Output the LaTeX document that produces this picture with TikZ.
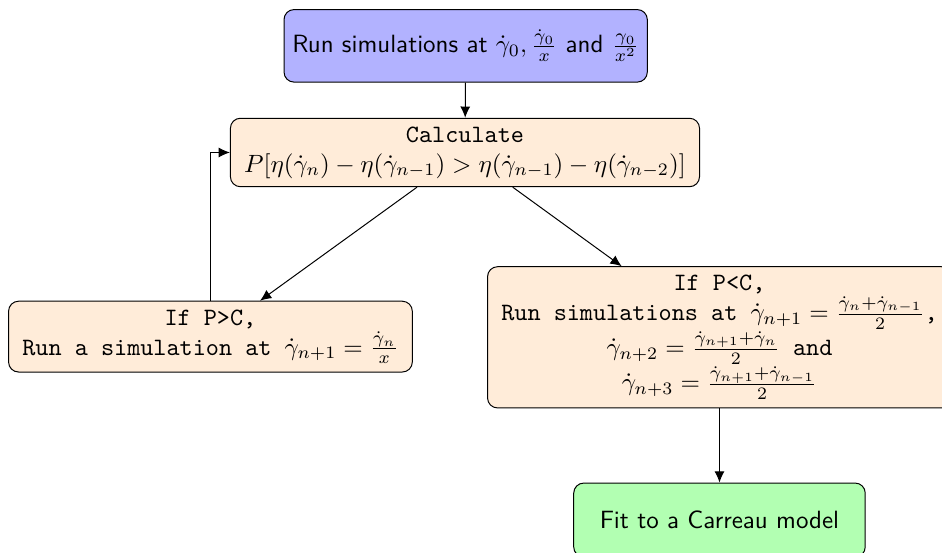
\documentclass[tikz,border=0pt]{standalone}
\usetikzlibrary{arrows.meta,positioning}
\tikzset{
  cf box/.style={draw=black, line width=0.4pt, rounded corners=4pt, align=center},
  cf start/.style={cf box, fill=blue!30, font=\sffamily, minimum height=10.2mm},
  cf step/.style={cf box, fill=orange!15, font=\ttfamily, inner xsep=5.5pt},
  cf end/.style={cf box, fill=green!30, font=\sffamily, minimum width=41mm, minimum height=10.4mm},
  cf arrow/.style={-{Latex[length=4.5pt,width=4pt]}, line width=0.4pt}
}

\begin{document}
\begin{tikzpicture}[x=1cm, y=1cm]
  \useasboundingbox (0,0) rectangle (13.25,7.775);
  \node[cf start] (start) at (6.55,7.13)
    {Run simulations at $\dot{\gamma}_0,\frac{\dot{\gamma}_0}{x}$ and $\frac{\gamma_0}{x^2}$};
  \node[cf step] (calc) at (6.54,5.63)
    {Calculate\\ $P[\eta(\dot{\gamma}_n)-\eta(\dot{\gamma}_{n-1})>\eta(\dot{\gamma}_{n-1})-\eta(\dot{\gamma}_{n-2})]$};
  \node[cf step] (grow) at (2.96,3.04)
    {If P>C,\\ Run a simulation at $\dot{\gamma}_{n+1}=\frac{\dot{\gamma}_n}{x}$};
  \node[cf step] (refine) at (10.12,3.03)
    {If P<C,\\ Run simulations at $\dot{\gamma}_{n+1}=\frac{\dot{\gamma}_n+\dot{\gamma}_{n-1}}{2}$,\\
     $\dot{\gamma}_{n+2}=\frac{\dot{\gamma}_{n+1}+\dot{\gamma}_n}{2}$ and\\
     $\dot{\gamma}_{n+3}=\frac{\dot{\gamma}_{n+1}+\dot{\gamma}_{n-1}}{2}$};
  \node[cf end] (fit) at (10.12,0.46) {Fit to a Carreau model};
  % connectors
  \draw[cf arrow] (start) -- (calc);
  \draw[cf arrow] (calc) -- (grow);
  \draw[cf arrow] (calc) -- (refine);
  \draw[cf arrow] (refine) -- (fit);
  \draw[cf arrow] (grow.north) |- (calc.west);
\end{tikzpicture}
\end{document}
